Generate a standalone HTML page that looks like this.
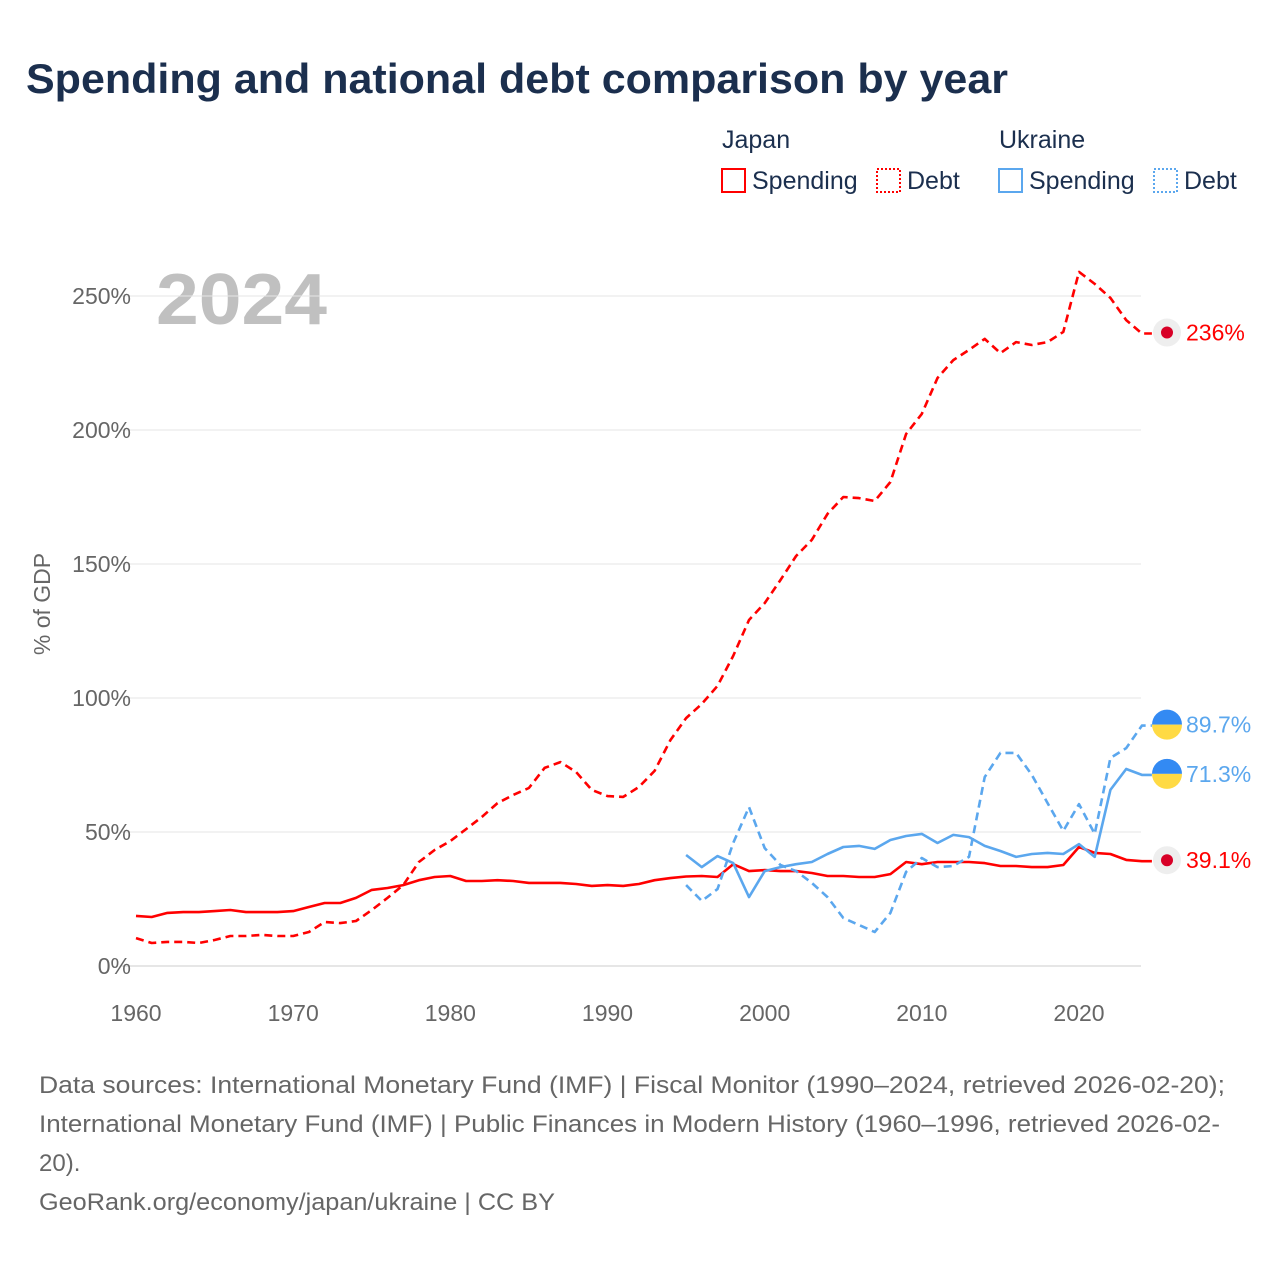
<!DOCTYPE html>
<html><head><meta charset="utf-8">
<style>
html,body{margin:0;padding:0;background:#fff;}
body{width:1280px;height:1280px;position:relative;overflow:hidden;font-family:"Liberation Sans",sans-serif;}
svg text{font-family:"Liberation Sans",sans-serif;}
</style></head>
<body>
<svg id="chart" width="1280" height="1280" xmlns="http://www.w3.org/2000/svg">
<text x="26" y="93" font-size="42" font-weight="bold" fill="#1b2f4e" textLength="982" lengthAdjust="spacingAndGlyphs">Spending and national debt comparison by year</text>
<g font-size="25" fill="#1b2f4e">
<text x="722" y="148">Japan</text>
<text x="999" y="148">Ukraine</text>
<g><rect x="722" y="169" width="23" height="23" fill="none" stroke="#f00" stroke-width="2"/><text x="752" y="189">Spending</text></g>
<g><rect x="877" y="169" width="23" height="23" fill="none" stroke="#f00" stroke-width="2" stroke-dasharray="2,2"/><text x="907" y="189">Debt</text></g>
<g><rect x="999" y="169" width="23" height="23" fill="none" stroke="#5ba7ee" stroke-width="2"/><text x="1029" y="189">Spending</text></g>
<g><rect x="1154" y="169" width="23" height="23" fill="none" stroke="#5ba7ee" stroke-width="2" stroke-dasharray="2,2"/><text x="1184" y="189">Debt</text></g>
</g>
<text x="156" y="324" font-size="72" font-weight="bold" fill="#c0c0c0" textLength="171" lengthAdjust="spacingAndGlyphs">2024</text>
<text transform="translate(50,604) rotate(-90)" text-anchor="middle" font-size="23" fill="#666">% of GDP</text>
<g id="grid"></g><g id="series"></g><g id="markers"></g>
<g font-size="24" fill="#666">
<text x="39" y="1093" textLength="1186" lengthAdjust="spacingAndGlyphs">Data sources: International Monetary Fund (IMF) | Fiscal Monitor (1990–2024, retrieved 2026-02-20);</text>
<text x="39" y="1132" textLength="1181" lengthAdjust="spacingAndGlyphs">International Monetary Fund (IMF) | Public Finances in Modern History (1960–1996, retrieved 2026-02-</text>
<text x="39" y="1171">20).</text>
<text x="39" y="1210" textLength="516" lengthAdjust="spacingAndGlyphs">GeoRank.org/economy/japan/ukraine | CC BY</text>
</g>
</svg>
<script>
const jpYears=[];for(let y=1960;y<=2024;y++)jpYears.push(y);
const uaYears=[];for(let y=1995;y<=2024;y++)uaYears.push(y);
const jpSpending=[18.7,18.3,19.8,20.1,20.1,20.5,20.9,20.1,20.1,20.1,20.5,22,23.5,23.5,25.4,28.4,29.1,30.2,32,33.2,33.6,31.7,31.7,32,31.7,31,31,31,30.6,29.9,30.2,29.9,30.6,32,32.8,33.4,33.6,33.2,38,35.4,35.8,35.4,35.4,34.7,33.6,33.6,33.2,33.2,34.3,38.8,38,38.8,38.8,38.8,38.4,37.3,37.3,36.9,36.9,37.7,44.4,42.2,41.8,39.6,39.1];
const jpDebt=[10.4,8.6,9,9,8.6,9.7,11.2,11.2,11.6,11.2,11.2,12.7,16.4,16,16.8,20.9,25.4,30.2,38.8,43.3,46.6,51.1,55.6,60.8,63.8,66.4,73.9,76.1,72.4,65.7,63.4,63.1,66.8,72.8,84.3,92.5,97.8,104.5,115.7,129.1,135.4,144,153,159,168.7,175,174.6,173.5,180.6,198.5,206,219.4,226.1,229.9,234,228.7,232.8,231.7,232.8,236.6,259,254.5,249.3,241,236];
const uaSpending=[41.4,36.9,41,38.4,25.7,35.4,36.9,38,38.8,41.8,44.4,44.8,43.7,47,48.5,49.3,45.9,48.9,48.1,44.8,42.9,40.7,41.8,42.2,41.8,45.5,40.7,65.7,73.5,71.3];
const uaDebt=[30.2,24.3,28.7,45.9,59.3,44,37.7,35.4,31,25.7,17.9,15.3,12.7,19.8,35.1,40.3,36.9,37.3,40.7,70.5,79.5,79.5,71.3,60.8,50.4,60.4,49.3,77.6,81.3,89.7];
const yTicks=[0,50,100,150,200,250];
const xTicks=[1960,1970,1980,1990,2000,2010,2020];
const endLabels=["236%","89.7%","71.3%","39.1%"];
const NS="http://www.w3.org/2000/svg";
const X=y=>136+(y-1960)*943/60;
const Y=v=>966-v*2.68;
function mk(tag,attrs,parent){const e=document.createElementNS(NS,tag);for(const k in attrs)e.setAttribute(k,attrs[k]);parent.appendChild(e);return e;}
const grid=document.getElementById('grid');
yTicks.forEach(t=>{
  const l=mk('line',{x1:120,x2:1141,y1:Y(t),y2:Y(t),stroke:t===0?'#ccc':'#e6e6e6','stroke-width':1},grid);
  
  
  const tx=mk('text',{x:131,y:Y(t)+8,'text-anchor':'end','font-size':23,fill:'#666'},grid);
  tx.textContent=t+'%';
  
  
});
xTicks.forEach(t=>{
  const tx=mk('text',{x:X(t),y:1021,'text-anchor':'middle','font-size':23,fill:'#666'},grid);
  tx.textContent=t;
  
  
});
const ser=document.getElementById('series');
function line(years,vals,color,dash,name){
  let d=vals.map((v,i)=>(i?'L':'M')+X(years[i]).toFixed(1)+','+Y(v).toFixed(1)).join('');
  d+='L'+(X(years[years.length-1])+10).toFixed(1)+','+Y(vals[vals.length-1]).toFixed(1);
  const p=mk('path',{d:d,fill:'none',stroke:color,'stroke-width':2.6,'stroke-linejoin':'round'},ser);
  if(dash)p.setAttribute('stroke-dasharray','8,5');
  
  
}
line(jpYears,jpSpending,'#f00',false,'japan-spending-line');
line(jpYears,jpDebt,'#f00',true,'japan-debt-line');
line(uaYears,uaSpending,'#5ba7ee',false,'ukraine-spending-line');
line(uaYears,uaDebt,'#5ba7ee',true,'ukraine-debt-line');
const mg=document.getElementById('markers');
const ends=[[jpDebt,'jp',endLabels[0]],[uaDebt,'ua',endLabels[1]],[uaSpending,'ua',endLabels[2]],[jpSpending,'jp',endLabels[3]]];
ends.forEach(([arr,c,lab])=>{
  const v=arr[arr.length-1],cy=Y(v)-1,cx=1167;
  const g=mk('g',{},mg);
  
  
  if(c==='jp'){
    mk('circle',{cx:cx,cy:cy,r:14,fill:'#eee'},g);
    mk('circle',{cx:cx,cy:cy,r:6,fill:'#d80027'},g);
  }else{
    mk('path',{d:`M${cx-15},${cy} A15,15 0 0 1 ${cx+15},${cy} Z`,fill:'#338af3'},g);
    mk('path',{d:`M${cx-15},${cy} A15,15 0 0 0 ${cx+15},${cy} Z`,fill:'#ffda44'},g);
  }
  const t=mk('text',{x:1186,y:cy+8,'font-size':23,fill:c==='jp'?'#f00':'#5ba7ee'},g);
  t.textContent=lab;
});
</script>
</body></html>
